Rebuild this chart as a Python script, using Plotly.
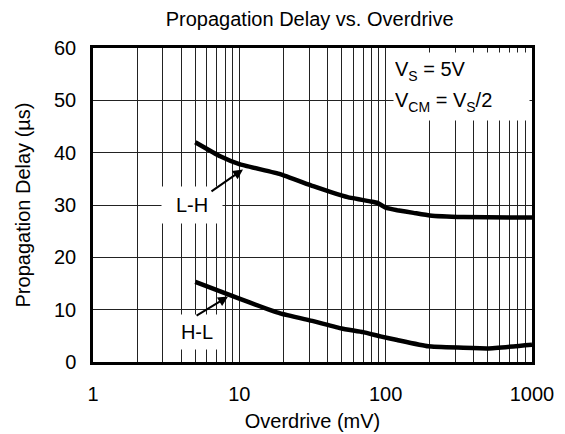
import plotly.graph_objects as go
import math

# Data
lh_x = [5, 7.4, 10, 19, 32, 55, 78, 88, 100, 120, 155, 200, 340, 1000]
lh_y = [42.0, 39.3, 37.8, 35.9, 33.6, 31.5, 30.7, 30.4, 29.5, 29.0, 28.5, 28.0, 27.7, 27.6]
hl_x = [5, 10, 19, 32, 50, 70, 92, 120, 195, 500, 1000]
hl_y = [15.3, 12.1, 9.3, 7.8, 6.4, 5.7, 4.9, 4.2, 3.0, 2.6, 3.3]

x_tickvals = [1, 10, 100, 1000]
x_ticktext = ["1", "10", "100", "1000"]
x_minorvals = [m * d for d in (1, 10, 100) for m in range(2, 10)]
y_tickvals = [0, 10, 20, 30, 40, 50, 60]

FONT = "Arial, Liberation Sans, sans-serif"

fig = go.Figure()
for xs, ys in ((lh_x, lh_y), (hl_x, hl_y)):
    fig.add_trace(go.Scatter(x=xs, y=ys, mode="lines",
                             line=dict(color="black", width=4.5, shape="spline", smoothing=0.3),
                             showlegend=False, hoverinfo="skip"))

fig.update_layout(
    width=565, height=434,
    margin=dict(l=85, r=41, t=40, b=78),
    paper_bgcolor="white", plot_bgcolor="white",
    font=dict(family=FONT, size=20, color="black"),
    title=dict(text="Propagation Delay vs. Overdrive", x=0.534, xanchor="center",
               y=0.974, yanchor="middle", font=dict(size=20)),
    xaxis=dict(type="log", range=[0, 3], tickvals=x_tickvals, ticktext=x_ticktext,
               tickfont=dict(size=20), ticklabelstandoff=12,
               showgrid=True, gridcolor="#222", gridwidth=1, ticks="",
               minor=dict(tickvals=x_minorvals, showgrid=True, gridcolor="#222",
                          gridwidth=1, ticks=""),
               showline=True, linecolor="black", linewidth=2.5, mirror=True,
               title=dict(text="Overdrive (mV)", standoff=11, font=dict(size=20)),
               zeroline=False),
    yaxis=dict(range=[0, 60], tickvals=y_tickvals, showgrid=True, gridcolor="#222",
               tickfont=dict(size=20), ticklabelstandoff=10,
               gridwidth=1, ticks="", showline=True, linecolor="black", linewidth=2.5,
               mirror=True, title=dict(text="Propagation Delay (µs)", standoff=19,
                                       font=dict(size=20)),
               zeroline=False),
)

annos = [
    dict(x=math.log10(4.75), y=30.0, xref="x", yref="y", text="L-H", showarrow=False,
         bgcolor="white", width=58, height=34, font=dict(size=20)),
    dict(x=math.log10(5.15), y=5.7, xref="x", yref="y", text="H-L", showarrow=False,
         bgcolor="white", width=52, height=32, font=dict(size=20)),
    dict(x=1.025, y=36.8, xref="x", yref="y", text="", showarrow=True, arrowhead=2,
         arrowsize=1, arrowwidth=2, arrowcolor="black", ax=-33, ay=23),
    dict(x=0.923, y=12.5, xref="x", yref="y", text="", showarrow=True, arrowhead=2,
         arrowsize=1, arrowwidth=2, arrowcolor="black", ax=-33, ay=20),
    dict(x=0.684, y=0.927, xref="paper", yref="paper", xanchor="left", yanchor="middle",
         text="V<sub>S</sub> = 5V", showarrow=False, bgcolor="white", width=133,
         height=34, align="left", font=dict(size=20)),
    dict(x=0.684, y=0.827, xref="paper", yref="paper", xanchor="left", yanchor="middle",
         text="V<sub>CM</sub> = V<sub>S</sub>/2", showarrow=False, bgcolor="white",
         width=133, height=34, align="left", font=dict(size=20)),
]
fig.update_layout(annotations=annos)

fig.write_html("out.html")
